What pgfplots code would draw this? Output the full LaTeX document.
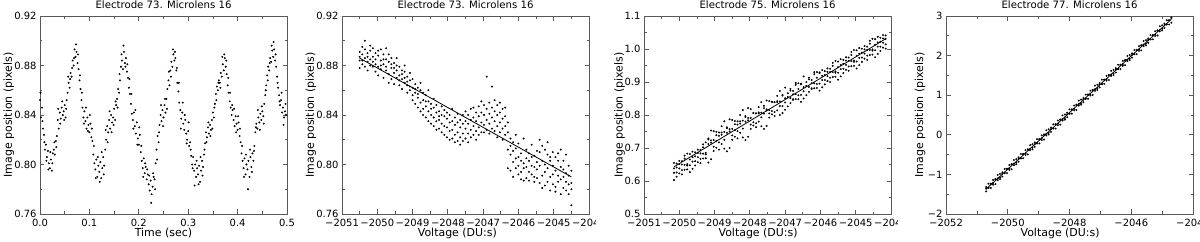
\documentclass[border=0pt]{standalone}
\usepackage{fontspec}
\setmainfont{DejaVu Sans}
\usepackage{pgfplots}
\usepackage{pgfplotstable}
\pgfplotsset{compat=1.18}

\pgfplotstableread{
t y
0.000 0.852
0.002 0.838
0.004 0.846
0.006 0.829
0.008 0.824
0.010 0.812
0.012 0.816
0.014 0.806
0.016 0.811
0.018 0.801
0.020 0.797
0.022 0.804
0.024 0.795
0.026 0.809
0.028 0.812
0.030 0.808
0.032 0.819
0.034 0.823
0.036 0.836
0.038 0.829
0.040 0.842
0.042 0.837
0.044 0.846
0.046 0.840
0.048 0.843
0.050 0.848
0.052 0.838
0.054 0.852
0.056 0.858
0.058 0.866
0.060 0.862
0.062 0.874
0.064 0.871
0.066 0.884
0.068 0.880
0.070 0.893
0.072 0.887
0.074 0.891
0.076 0.882
0.078 0.877
0.080 0.868
0.082 0.861
0.084 0.852
0.086 0.846
0.088 0.838
0.090 0.843
0.092 0.835
0.094 0.829
0.096 0.838
0.098 0.832
0.100 0.826
0.102 0.833
0.104 0.822
0.106 0.819
0.108 0.808
0.110 0.801
0.112 0.796
0.114 0.804
0.116 0.790
0.118 0.799
0.120 0.794
0.122 0.802
0.124 0.789
0.126 0.797
0.128 0.806
0.130 0.799
0.132 0.812
0.134 0.820
0.136 0.831
0.138 0.826
0.140 0.836
0.142 0.829
0.144 0.840
0.146 0.834
0.148 0.838
0.150 0.845
0.152 0.836
0.154 0.848
0.156 0.853
0.158 0.861
0.160 0.858
0.162 0.868
0.164 0.879
0.166 0.884
0.168 0.877
0.170 0.891
0.172 0.882
0.174 0.886
0.176 0.875
0.178 0.870
0.180 0.862
0.182 0.857
0.184 0.849
0.186 0.841
0.188 0.836
0.190 0.842
0.192 0.831
0.194 0.825
0.196 0.834
0.198 0.821
0.200 0.816
0.202 0.824
0.204 0.810
0.206 0.803
0.208 0.797
0.210 0.805
0.212 0.793
0.214 0.798
0.216 0.788
0.218 0.792
0.220 0.784
0.222 0.779
0.224 0.787
0.226 0.776
0.228 0.782
0.230 0.790
0.232 0.788
0.234 0.801
0.236 0.812
0.238 0.823
0.240 0.818
0.242 0.832
0.244 0.840
0.246 0.835
0.248 0.844
0.250 0.838
0.252 0.848
0.254 0.842
0.256 0.853
0.258 0.861
0.260 0.868
0.262 0.864
0.264 0.876
0.266 0.883
0.268 0.879
0.270 0.889
0.272 0.884
0.274 0.886
0.276 0.876
0.278 0.866
0.280 0.859
0.282 0.850
0.284 0.844
0.286 0.837
0.288 0.842
0.290 0.833
0.292 0.828
0.294 0.836
0.296 0.825
0.298 0.820
0.300 0.827
0.302 0.815
0.304 0.818
0.306 0.807
0.308 0.800
0.310 0.806
0.312 0.795
0.314 0.800
0.316 0.790
0.318 0.797
0.320 0.792
0.322 0.799
0.324 0.786
0.326 0.795
0.328 0.803
0.330 0.798
0.332 0.808
0.334 0.817
0.336 0.826
0.338 0.822
0.340 0.830
0.342 0.825
0.344 0.832
0.346 0.828
0.348 0.836
0.350 0.842
0.352 0.838
0.354 0.849
0.356 0.857
0.358 0.863
0.360 0.860
0.362 0.868
0.364 0.866
0.366 0.874
0.368 0.871
0.370 0.881
0.372 0.876
0.374 0.886
0.376 0.879
0.378 0.873
0.380 0.864
0.382 0.858
0.384 0.851
0.386 0.846
0.388 0.840
0.390 0.844
0.392 0.836
0.394 0.831
0.396 0.839
0.398 0.833
0.400 0.828
0.402 0.834
0.404 0.823
0.406 0.818
0.408 0.809
0.410 0.803
0.412 0.797
0.414 0.805
0.416 0.792
0.418 0.800
0.420 0.796
0.422 0.803
0.424 0.790
0.426 0.806
0.428 0.798
0.430 0.809
0.432 0.803
0.434 0.815
0.436 0.826
0.438 0.833
0.440 0.829
0.442 0.838
0.444 0.834
0.446 0.841
0.448 0.836
0.450 0.843
0.452 0.839
0.454 0.849
0.456 0.856
0.458 0.864
0.460 0.872
0.462 0.879
0.464 0.876
0.466 0.886
0.468 0.883
0.470 0.892
0.472 0.887
0.474 0.893
0.476 0.884
0.478 0.879
0.480 0.871
0.482 0.862
0.484 0.856
0.486 0.848
0.488 0.852
0.490 0.842
0.492 0.846
0.494 0.838
0.496 0.843
0.498 0.840
}\tabA

\pgfplotstableread{
t y
0.001 0.858
0.005 0.835
0.009 0.818
0.013 0.803
0.017 0.796
0.021 0.810
0.025 0.801
0.029 0.818
0.033 0.814
0.037 0.845
0.041 0.833
0.045 0.851
0.049 0.836
0.053 0.845
0.057 0.871
0.061 0.869
0.065 0.878
0.069 0.886
0.073 0.897
0.077 0.889
0.081 0.872
0.085 0.858
0.089 0.833
0.093 0.846
0.097 0.827
0.101 0.840
0.105 0.829
0.109 0.815
0.113 0.789
0.117 0.806
0.121 0.786
0.125 0.810
0.129 0.792
0.133 0.828
0.137 0.818
0.141 0.843
0.145 0.826
0.149 0.832
0.153 0.851
0.157 0.846
0.161 0.873
0.165 0.889
0.169 0.896
0.173 0.879
0.177 0.881
0.181 0.869
0.185 0.857
0.189 0.829
0.193 0.844
0.197 0.816
0.201 0.830
0.205 0.815
0.209 0.790
0.213 0.801
0.217 0.796
0.221 0.791
0.225 0.769
0.229 0.793
0.233 0.780
0.237 0.804
0.241 0.826
0.245 0.848
0.249 0.831
0.253 0.853
0.257 0.845
0.261 0.875
0.265 0.871
0.269 0.893
0.273 0.891
0.277 0.878
0.281 0.866
0.285 0.829
0.289 0.850
0.293 0.840
0.297 0.817
0.301 0.834
0.305 0.812
0.309 0.797
0.313 0.783
0.317 0.803
0.321 0.784
0.325 0.806
0.329 0.791
0.333 0.812
0.337 0.818
0.341 0.834
0.345 0.823
0.349 0.829
0.353 0.846
0.357 0.852
0.361 0.866
0.365 0.862
0.369 0.887
0.373 0.889
0.377 0.884
0.381 0.870
0.385 0.858
0.389 0.848
0.393 0.845
0.397 0.826
0.401 0.839
0.405 0.829
0.409 0.815
0.413 0.790
0.417 0.808
0.421 0.780
0.425 0.812
0.429 0.794
0.433 0.811
0.437 0.830
0.441 0.844
0.445 0.828
0.449 0.847
0.453 0.833
0.457 0.860
0.461 0.868
0.465 0.882
0.469 0.896
0.473 0.899
0.477 0.889
0.481 0.866
0.485 0.851
0.489 0.858
0.493 0.832
0.497 0.849
}\tabAA

\pgfplotstableread{
v a b c d
-2050.500 0.884 0.878 0.891 0.887
-2050.425 0.889 0.881 0.895 0.884
-2050.350 0.886 0.893 0.879 0.900
-2050.275 0.883 0.890 0.876 0.887
-2050.200 0.892 0.885 0.880 0.896
-2050.125 0.887 0.879 0.894 0.883
-2050.050 0.885 0.890 0.875 0.881
-2049.975 0.879 0.888 0.872 0.892
-2049.900 0.884 0.877 0.893 0.880
-2049.825 0.881 0.889 0.870 0.885
-2049.750 0.876 0.885 0.894 0.879
-2049.675 0.883 0.873 0.889 0.866
-2049.600 0.878 0.886 0.869 0.881
-2049.525 0.874 0.882 0.865 0.878
-2049.450 0.880 0.870 0.876 0.886
-2049.375 0.872 0.879 0.864 0.868
-2049.300 0.869 0.876 0.861 0.873
-2049.225 0.875 0.866 0.870 0.880
-2049.150 0.864 0.871 0.858 0.867
-2049.075 0.868 0.860 0.874 0.863
-2049.000 0.862 0.856 0.869 0.852
-2048.925 0.858 0.865 0.849 0.861
-2048.850 0.854 0.862 0.846 0.857
-2048.775 0.860 0.850 0.843 0.866
-2048.700 0.852 0.845 0.858 0.840
-2048.625 0.847 0.856 0.838 0.851
-2048.550 0.843 0.851 0.835 0.860
-2048.475 0.849 0.840 0.845 0.833
-2048.400 0.838 0.846 0.831 0.853
-2048.325 0.842 0.835 0.848 0.828
-2048.250 0.836 0.843 0.829 0.839
-2048.175 0.833 0.840 0.826 0.847
-2048.100 0.839 0.831 0.844 0.824
-2048.025 0.830 0.837 0.822 0.842
-2047.950 0.834 0.827 0.840 0.820
-2047.875 0.828 0.835 0.821 0.845
-2047.800 0.832 0.824 0.838 0.818
-2047.725 0.826 0.834 0.819 0.841
-2047.650 0.830 0.822 0.836 0.816
-2047.575 0.825 0.833 0.840 0.819
-2047.500 0.829 0.821 0.835 0.843
-2047.425 0.833 0.825 0.840 0.818
-2047.350 0.828 0.836 0.822 0.845
-2047.275 0.831 0.824 0.838 0.846
-2047.200 0.835 0.827 0.842 0.820
-2047.125 0.839 0.830 0.847 0.824
-2047.050 0.834 0.842 0.826 0.851
-2046.975 0.840 0.832 0.848 0.826
-2046.900 0.836 0.845 0.828 0.871
-2046.825 0.841 0.833 0.850 0.825
-2046.750 0.838 0.846 0.829 0.863
-2046.675 0.835 0.843 0.852 0.827
-2046.600 0.840 0.831 0.848 0.822
-2046.525 0.834 0.842 0.826 0.850
-2046.450 0.837 0.829 0.845 0.820
-2046.375 0.831 0.839 0.824 0.846
-2046.300 0.826 0.812 0.834 0.797
-2046.225 0.808 0.821 0.795 0.815
-2046.150 0.818 0.802 0.811 0.790
-2046.075 0.797 0.813 0.824 0.805
-2046.000 0.806 0.792 0.817 0.799
-2045.925 0.794 0.809 0.788 0.803
-2045.850 0.801 0.787 0.797 0.821
-2045.775 0.789 0.805 0.798 0.812
-2045.700 0.803 0.794 0.787 0.809
-2045.625 0.792 0.799 0.806 0.816
-2045.550 0.807 0.790 0.798 0.786
-2045.475 0.796 0.811 0.789 0.802
-2045.400 0.785 0.799 0.810 0.820
-2045.325 0.803 0.791 0.781 0.815
-2045.250 0.794 0.812 0.800 0.783
-2045.175 0.808 0.786 0.797 0.818
-2045.100 0.790 0.803 0.779 0.806
-2045.025 0.799 0.784 0.810 0.792
-2044.950 0.782 0.806 0.795 0.778
-2044.875 0.803 0.791 0.786 0.809
-2044.800 0.788 0.798 0.776 0.812
-2044.725 0.796 0.781 0.803 0.790
-2044.650 0.779 0.793 0.786 0.808
-2044.575 0.791 0.776 0.799 0.784
-2044.500 0.785 0.795 0.780 0.767
}\tabB

\pgfplotstableread{
v a b c d
-2050.150 0.655 0.625 0.638 0.603
-2050.075 0.626 0.653 0.613 0.641
-2050.000 0.651 0.623 0.661 0.638
-2049.925 0.620 0.650 0.660 0.633
-2049.850 0.668 0.649 0.634 0.677
-2049.775 0.651 0.683 0.647 0.635
-2049.700 0.665 0.648 0.682 0.627
-2049.625 0.689 0.659 0.672 0.637
-2049.550 0.660 0.687 0.647 0.675
-2049.475 0.685 0.657 0.695 0.672
-2049.400 0.654 0.684 0.694 0.667
-2049.325 0.702 0.683 0.668 0.711
-2049.250 0.685 0.717 0.681 0.669
-2049.175 0.729 0.712 0.726 0.656
-2049.100 0.753 0.723 0.716 0.666
-2049.025 0.724 0.751 0.691 0.704
-2048.950 0.749 0.721 0.739 0.701
-2048.875 0.717 0.747 0.737 0.695
-2048.800 0.766 0.747 0.712 0.740
-2048.725 0.749 0.781 0.725 0.698
-2048.650 0.763 0.746 0.760 0.690
-2048.575 0.787 0.757 0.750 0.700
-2048.500 0.758 0.785 0.725 0.738
-2048.425 0.782 0.754 0.772 0.734
-2048.350 0.751 0.781 0.771 0.729
-2048.275 0.800 0.781 0.746 0.774
-2048.200 0.783 0.815 0.759 0.732
-2048.125 0.797 0.780 0.794 0.724
-2048.050 0.821 0.791 0.784 0.734
-2047.975 0.791 0.818 0.758 0.771
-2047.900 0.806 0.778 0.806 0.768
-2047.825 0.775 0.805 0.805 0.763
-2047.750 0.824 0.805 0.780 0.808
-2047.675 0.807 0.839 0.793 0.766
-2047.600 0.821 0.804 0.828 0.758
-2047.525 0.844 0.814 0.817 0.767
-2047.450 0.815 0.842 0.792 0.805
-2047.375 0.840 0.812 0.840 0.802
-2047.300 0.809 0.839 0.839 0.797
-2047.225 0.858 0.839 0.814 0.842
-2047.150 0.841 0.873 0.827 0.800
-2047.075 0.859 0.827 0.861 0.806
-2047.000 0.883 0.838 0.851 0.816
-2046.925 0.854 0.866 0.826 0.854
-2046.850 0.879 0.836 0.874 0.851
-2046.775 0.848 0.863 0.873 0.846
-2046.700 0.897 0.863 0.848 0.891
-2046.625 0.879 0.896 0.860 0.848
-2046.550 0.893 0.861 0.895 0.840
-2046.475 0.917 0.872 0.885 0.850
-2046.400 0.888 0.900 0.860 0.888
-2046.325 0.913 0.870 0.908 0.885
-2046.250 0.881 0.896 0.906 0.879
-2046.175 0.930 0.896 0.881 0.924
-2046.100 0.913 0.930 0.894 0.882
-2046.025 0.927 0.895 0.929 0.874
-2045.950 0.936 0.906 0.919 0.884
-2045.875 0.906 0.933 0.893 0.921
-2045.800 0.931 0.903 0.941 0.918
-2045.725 0.900 0.930 0.940 0.913
-2045.650 0.949 0.930 0.915 0.958
-2045.575 0.932 0.964 0.928 0.916
-2045.500 0.945 0.928 0.962 0.907
-2045.425 0.969 0.939 0.952 0.917
-2045.350 0.940 0.967 0.927 0.955
-2045.275 0.965 0.937 0.975 0.952
-2045.200 0.934 0.964 0.974 0.947
-2045.125 0.982 0.963 0.948 0.991
-2045.050 0.965 0.997 0.961 0.949
-2044.975 0.979 0.962 0.996 0.941
-2044.900 1.003 0.973 0.986 0.951
-2044.825 0.974 1.001 0.961 0.989
-2044.750 0.999 0.971 1.009 0.986
-2044.675 0.967 0.997 1.007 0.980
-2044.600 1.016 0.997 0.982 1.025
-2044.525 0.999 1.031 0.995 0.983
-2044.450 1.013 0.996 1.030 0.975
-2044.375 1.037 1.007 1.020 0.985
-2044.300 1.007 1.034 0.994 1.022
-2044.225 1.032 1.004 1.042 1.019
-2044.150 1.001 1.031 1.041 1.014
}\tabC

\pgfplotstableread{
v a b c
-2050.700 -1.320 -1.430 -1.360
-2050.625 -1.236 -1.346 -1.336
-2050.550 -1.233 -1.343 -1.243
-2050.475 -1.139 -1.259 -1.219
-2050.400 -1.116 -1.246 -1.126
-2050.325 -1.012 -1.142 -1.102
-2050.250 -0.988 -1.118 -1.078
-2050.175 -0.945 -1.055 -0.985
-2050.100 -0.861 -0.971 -0.961
-2050.025 -0.857 -0.967 -0.867
-2049.950 -0.764 -0.884 -0.844
-2049.875 -0.740 -0.870 -0.750
-2049.800 -0.637 -0.767 -0.727
-2049.725 -0.613 -0.743 -0.703
-2049.650 -0.569 -0.679 -0.609
-2049.575 -0.486 -0.596 -0.586
-2049.500 -0.482 -0.592 -0.492
-2049.425 -0.388 -0.508 -0.468
-2049.350 -0.365 -0.495 -0.375
-2049.275 -0.261 -0.391 -0.351
-2049.200 -0.238 -0.368 -0.328
-2049.125 -0.194 -0.304 -0.234
-2049.050 -0.110 -0.220 -0.210
-2048.975 -0.107 -0.217 -0.117
-2048.900 -0.013 -0.133 -0.093
-2048.825 0.011 -0.119 0.001
-2048.750 0.114 -0.016 0.024
-2048.675 0.138 0.008 0.048
-2048.600 0.182 0.072 0.142
-2048.525 0.265 0.155 0.165
-2048.450 0.269 0.159 0.259
-2048.375 0.362 0.242 0.282
-2048.300 0.386 0.256 0.376
-2048.225 0.490 0.360 0.400
-2048.150 0.513 0.383 0.423
-2048.075 0.557 0.447 0.517
-2048.000 0.641 0.531 0.541
-2047.925 0.644 0.534 0.634
-2047.850 0.738 0.618 0.658
-2047.775 0.761 0.631 0.751
-2047.700 0.865 0.735 0.775
-2047.625 0.889 0.759 0.799
-2047.550 0.932 0.822 0.892
-2047.475 1.016 0.906 0.916
-2047.400 1.020 0.910 1.010
-2047.325 1.113 0.993 1.033
-2047.250 1.137 1.007 1.127
-2047.175 1.240 1.110 1.150
-2047.100 1.264 1.134 1.174
-2047.025 1.308 1.198 1.268
-2046.950 1.391 1.281 1.291
-2046.875 1.395 1.285 1.385
-2046.800 1.488 1.368 1.408
-2046.725 1.512 1.382 1.502
-2046.650 1.616 1.486 1.526
-2046.575 1.639 1.509 1.549
-2046.500 1.683 1.573 1.643
-2046.425 1.767 1.657 1.667
-2046.350 1.770 1.660 1.760
-2046.275 1.864 1.744 1.784
-2046.200 1.888 1.758 1.878
-2046.125 1.991 1.861 1.901
-2046.050 2.015 1.885 1.925
-2045.975 2.058 1.948 2.018
-2045.900 2.142 2.032 2.042
-2045.825 2.146 2.036 2.136
-2045.750 2.239 2.119 2.159
-2045.675 2.263 2.133 2.253
-2045.600 2.367 2.237 2.277
-2045.525 2.390 2.260 2.300
-2045.450 2.434 2.324 2.394
-2045.375 2.517 2.407 2.417
-2045.300 2.521 2.411 2.511
-2045.225 2.615 2.495 2.535
-2045.150 2.638 2.508 2.628
-2045.075 2.742 2.612 2.652
-2045.000 2.766 2.636 2.676
-2044.925 2.809 2.699 2.769
-2044.850 2.893 2.783 2.793
-2044.775 2.896 2.786 2.886
-2044.700 2.960 2.830 2.950
}\tabD

\pgfplotsset{
  every axis title shift=0pt,
  idl/.style={
    width=247bp, height=198bp, scale only axis, anchor=south west,
    axis line style={black!65, line width=0.75bp},
    every tick/.style={black!65, line width=0.75bp},
    major tick length=4.5bp, minor tick length=2.5bp,
    tick align=inside,
    tick label style={font=\fontsize{10}{12}\selectfont},
    xticklabel style={anchor=base, yshift=-12.7bp},
    yticklabel style={anchor=east},
    title style={at={(0.5,1.0379)}, anchor=base, font=\fontsize{10.2}{12}\selectfont},
    xlabel style={at={(0.5,-0.1136)}, anchor=base, font=\fontsize{11}{13}\selectfont},
    ylabel style={anchor=base, font=\fontsize{11}{13}\selectfont},
    ylabel={Image position (pixels)},
    minor x tick num=1, minor y tick num=1,
  },
  dots/.style={only marks, mark=*, mark size=0.75bp, mark options={draw=none, fill=black}},
  fit/.style={black, line width=0.8bp, no marks},
}

\begin{document}
\begin{tikzpicture}
\useasboundingbox (0,0) rectangle (1200bp,242bp);

% Panel 1
\begin{scope}
\clip (-9bp,0) rectangle (293bp,242bp);
\begin{axis}[idl, at={(40bp,28bp)},
  xmin=0, xmax=0.5, ymin=0.76, ymax=0.92,
  xtick={0,0.1,0.2,0.3,0.4,0.5}, xticklabels={0.0,0.1,0.2,0.3,0.4,0.5},
  ytick={0.76,0.80,0.84,0.88,0.92}, yticklabels={0.76,0.80,0.84,0.88,0.92},
  title={Electrode 73. Microlens 16}, xlabel={Time (sec)},
  ylabel style={at={(-0.1134,0.5)}}]
\addplot[dots] table[x=t, y=y] {\tabA};
\addplot[dots] table[x=t, y=y] {\tabAA};
\end{axis}
\end{scope}

% Panel 2
\begin{scope}
\clip (293bp,0) rectangle (595bp,242bp);
\begin{axis}[idl, at={(342bp,28bp)},
  xmin=-2051, xmax=-2044, ymin=0.76, ymax=0.92,
  xtick={-2051,-2050,-2049,-2048,-2047,-2046,-2045,-2044},
  xticklabels={−2051,−2050,−2049,−2048,−2047,−2046,−2045,−2044},
  ytick={0.76,0.80,0.84,0.88,0.92}, yticklabels={0.76,0.80,0.84,0.88,0.92},
  title={Electrode 73. Microlens 16}, xlabel={Voltage (DU:s)},
  xlabel style={at={(0.467,-0.1136)}},
  ylabel style={at={(-0.1134,0.5)}}]
\addplot[dots] table[x=v, y=a] {\tabB};
\addplot[dots] table[x=v, y=b] {\tabB};
\addplot[dots] table[x=v, y=c] {\tabB};
\addplot[dots] table[x=v, y=d] {\tabB};
\addplot[fit] coordinates {(-2050.50,0.886) (-2044.50,0.790)};
\end{axis}
\end{scope}

% Panel 3
\begin{scope}
\clip (595bp,0) rectangle (897bp,242bp);
\begin{axis}[idl, at={(644bp,28bp)},
  xmin=-2051, xmax=-2044, ymin=0.5, ymax=1.1,
  xtick={-2051,-2050,-2049,-2048,-2047,-2046,-2045,-2044},
  xticklabels={−2051,−2050,−2049,−2048,−2047,−2046,−2045,−2044},
  ytick={0.5,0.6,0.7,0.8,0.9,1.0,1.1}, yticklabels={0.5,0.6,0.7,0.8,0.9,1.0,1.1},
  title={Electrode 75. Microlens 16}, xlabel={Voltage (DU:s)},
  xlabel style={at={(0.462,-0.1136)}},
  ylabel style={at={(-0.087,0.5)}}]
\addplot[dots] table[x=v, y=a] {\tabC};
\addplot[dots] table[x=v, y=b] {\tabC};
\addplot[dots] table[x=v, y=c] {\tabC};
\addplot[dots] table[x=v, y=d] {\tabC};
\addplot[fit] coordinates {(-2050.15,0.643) (-2044.15,1.031)};
\end{axis}
\end{scope}

% Panel 4
\begin{scope}
\clip (897bp,0) rectangle (1199bp,242bp);
\begin{axis}[idl, at={(946bp,28bp)},
  xmin=-2052, xmax=-2044, ymin=-2, ymax=3,
  xtick={-2052,-2050,-2048,-2046,-2044},
  xticklabels={−2052,−2050,−2048,−2046,−2044},
  ytick={-2,-1,0,1,2,3}, yticklabels={−2,−1,0,1,2,3},
  title={Electrode 77. Microlens 16}, xlabel={Voltage (DU:s)},
  xlabel style={at={(0.462,-0.1136)}},
  ylabel style={at={(-0.093,0.5)}}]
\addplot[dots] table[x=v, y=a] {\tabD};
\addplot[dots] table[x=v, y=b] {\tabD};
\addplot[dots] table[x=v, y=c] {\tabD};
\addplot[fit] coordinates {(-2050.70,-1.370) (-2044.70,2.920)};
\end{axis}
\end{scope}
\end{tikzpicture}
\end{document}
